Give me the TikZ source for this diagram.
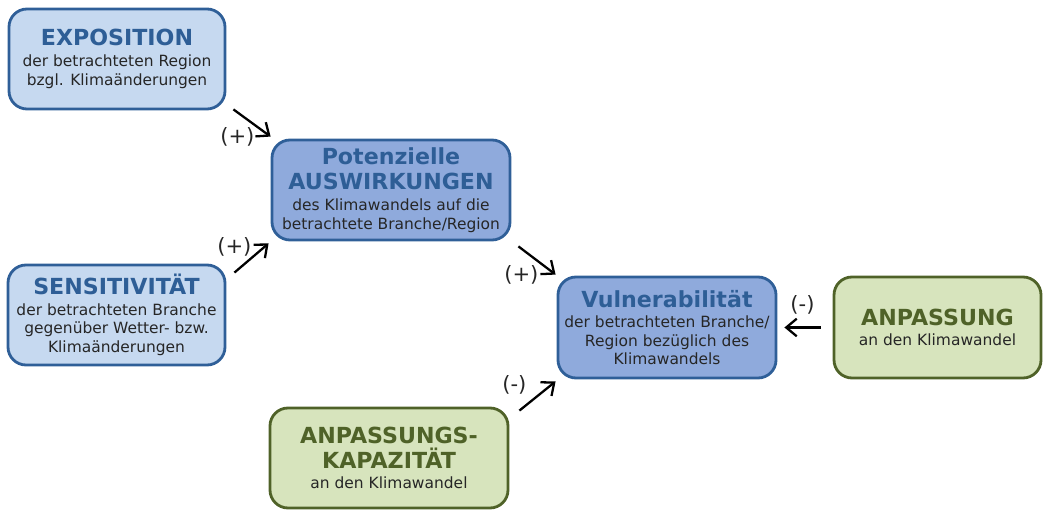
\documentclass[tikz,border=0pt]{standalone}
\usepackage{fontspec}
\setmainfont{DejaVu Sans}
\usepackage{tikz}
\usetikzlibrary{arrows.meta,calc}
\definecolor{vlight}{RGB}{198,217,240}
\definecolor{vmid}{RGB}{143,170,220}
\definecolor{vborder}{RGB}{47,95,152}
\definecolor{vtitle}{RGB}{46,94,150}
\definecolor{glight}{RGB}{215,228,189}
\definecolor{gborder}{RGB}{79,98,40}
\definecolor{txtgray}{RGB}{38,38,38}
\newcommand{\btitle}[1]{{\fontsize{12.6}{14.7}\selectfont\bfseries\color{vtitle}#1}}
\newcommand{\gtitle}[1]{{\fontsize{12.6}{14.7}\selectfont\bfseries\color{gborder}#1}}

\begin{document}
\begin{tikzpicture}[
  box/.style={line width=1.6pt, rounded corners=0.36cm, minimum height=2cm,
    align=center, text=txtgray, inner sep=0, font=\fontsize{8.8}{10.6}\selectfont},
  bluebox/.style={box, draw=vborder, fill=vlight},
  midbox/.style={box, draw=vborder, fill=vmid},
  greenbox/.style={box, draw=gborder, fill=glight},
  arr/.style={-{Straight Barb[length=6pt,width=10pt]}, line width=1.3pt},
  lbl/.style={inner sep=0, text=txtgray, font=\fontsize{12}{14}\selectfont}]
  \useasboundingbox (0,0) rectangle (20.88,10.2);
  \node[bluebox, minimum width=4.32cm] (expo) at (2.34,9.02)
    {\btitle{EXPOSITION}\\[1.5pt]der betrachteten Region\\bzgl. Klimaänderungen};
  \node[midbox, minimum width=4.76cm] (pot) at (7.82,6.4)
    {\btitle{Potenzielle}\\[4pt]\btitle{AUSWIRKUNGEN}\\[1.5pt]des Klimawandels auf die\\betrachtete Branche/Region};
  \node[bluebox, minimum width=4.34cm] (sens) at (2.33,3.9)
    {\btitle{SENSITIVITÄT}\\[1pt]der betrachteten Branche\\gegenüber Wetter- bzw.\\Klimaänderungen};
  \node[midbox, minimum width=4.36cm, minimum height=2.02cm] (vul) at (13.34,3.65)
    {\btitle{Vulnerabilität}\\[1pt]der betrachteten Branche/\\Region bezüglich des\\Klimawandels};
  \node[greenbox, minimum width=4.14cm, minimum height=2.02cm] (anp) at (18.75,3.65)
    {\gtitle{ANPASSUNG}\\[1pt]an den Klimawandel};
  \node[greenbox, minimum width=4.76cm] (kap) at (7.78,1.04)
    {\gtitle{ANPASSUNGS-}\\[1.5pt]\gtitle{KAPAZITÄT}\\[1pt]an den Klimawandel};
  \draw[arr] ($(expo.south east)+(0.14,0.02)$) -- ($(pot.north west)+(0,0.04)$)
    node[lbl, at end, anchor=east, xshift=-0.3cm] {(+)};
  \draw[arr] ($(sens.north east)+(0.16,-0.18)$) -- ($(pot.south west)+(-0.04,-0.04)$)
    node[lbl, at end, anchor=east, xshift=-0.32cm, yshift=-0.06cm] {(+)};
  \draw[arr] ($(pot.south east)+(0.14,-0.1)$) -- ($(vul.north west)+(-0.02,0.02)$)
    node[lbl, at end, anchor=east, xshift=-0.32cm] {(+)};
  \draw[arr] ($(kap.north east)+(0.2,-0.08)$) -- ($(vul.south west)+(-0.02,-0.04)$)
    node[lbl, at end, anchor=east, xshift=-0.56cm, yshift=-0.06cm] {(-)};
  \draw[arr] ($(anp.west)+(-0.24,0)$) -- ($(vul.east)+(0.14,0)$)
    node[lbl, midway, anchor=south, yshift=0.24cm] {(-)};
\end{tikzpicture}
\end{document}
